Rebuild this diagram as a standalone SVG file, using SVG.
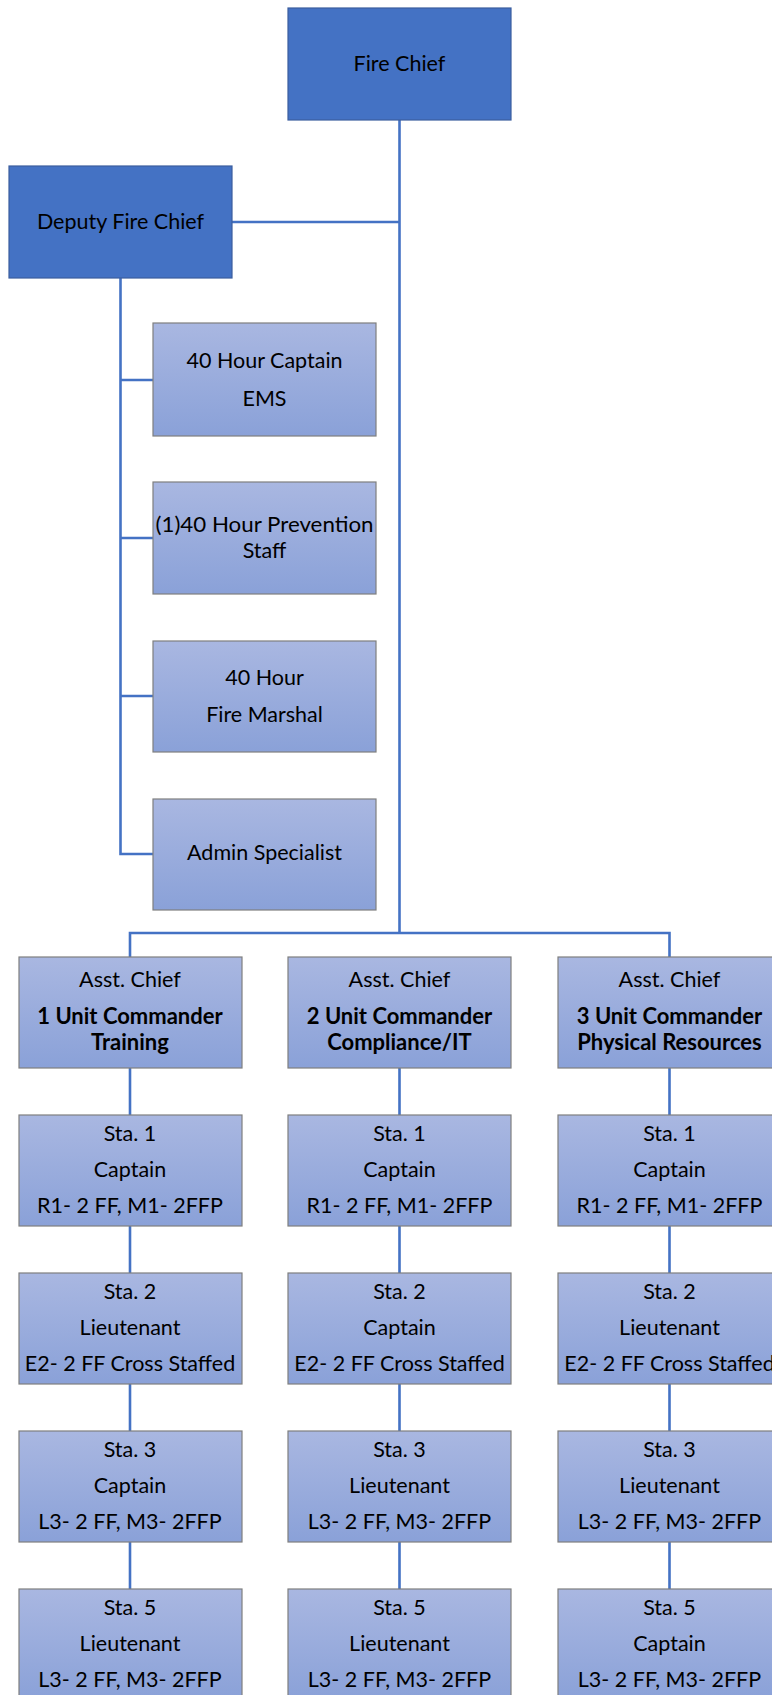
<svg xmlns="http://www.w3.org/2000/svg" width="772" height="1695" viewBox="0 0 772 1695">
<defs>
<linearGradient id="g" x1="0" y1="0" x2="0" y2="1">
<stop offset="0" stop-color="#A9B7E1"/>
<stop offset="1" stop-color="#8AA1D8"/>
</linearGradient>
<style>
.dark{fill:#4472C4;stroke:#3B5E9E;stroke-width:1.2}
.lite{fill:url(#g);stroke:#7F7F7F;stroke-width:1.2}
text{font-family:Lato,"Open Sans","Liberation Sans",sans-serif;font-size:21.5px;fill:#000;text-anchor:middle}
.b{font-weight:bold;font-size:22px}
.con{fill:none;stroke:#4472C4;stroke-width:2.6}
</style>
</defs>
<rect width="772" height="1695" fill="#fff"/>
<g id="connectors">
<path class="con" d="M399.5 120 V933"/>
<path class="con" d="M232 222 H399.5"/>
<path class="con" d="M120.5 278 V854 H153"/>
<path class="con" d="M120.5 380 H153 M120.5 538 H153 M120.5 696 H153"/>
<path class="con" d="M130 957 V933 H669.5 V957"/>
<path class="con" d="M130 1068 V1115 M130 1226 V1273 M130 1384 V1431 M130 1542 V1589"/>
<path class="con" d="M399.5 1068 V1115 M399.5 1226 V1273 M399.5 1384 V1431 M399.5 1542 V1589"/>
<path class="con" d="M669.5 1068 V1115 M669.5 1226 V1273 M669.5 1384 V1431 M669.5 1542 V1589"/>
</g>
<g id="fire-chief"><rect class="dark" x="288" y="8" width="223" height="112"/><text x="399.5" y="71">Fire Chief</text></g>
<g id="deputy"><rect class="dark" x="9" y="166" width="223" height="112"/><text x="120.5" y="229">Deputy Fire Chief</text></g>
<g id="ems"><rect class="lite" x="153" y="323" width="223" height="113"/><text x="264.5" y="368">40 Hour Captain</text><text x="264.5" y="406">EMS</text></g>
<g id="prevention"><rect class="lite" x="153" y="482" width="223" height="112"/><text x="264.5" y="532" textLength="218" lengthAdjust="spacingAndGlyphs">(1)40 Hour Prevention</text><text x="264.5" y="558">Staff</text></g>
<g id="marshal"><rect class="lite" x="153" y="641" width="223" height="111"/><text x="264.5" y="685">40 Hour</text><text x="264.5" y="722">Fire Marshal</text></g>
<g id="admin"><rect class="lite" x="153" y="799" width="223" height="111"/><text x="264.5" y="860">Admin Specialist</text></g>

<g id="ac1"><rect class="lite" x="19" y="957" width="223" height="111"/><text x="130" y="987">Asst. Chief</text><text class="b" x="130" y="1024">1 Unit Commander</text><text class="b" x="130" y="1050">Training</text></g>
<g id="ac2"><rect class="lite" x="288" y="957" width="223" height="111"/><text x="399.5" y="987">Asst. Chief</text><text class="b" x="399.5" y="1024">2 Unit Commander</text><text class="b" x="399.5" y="1050">Compliance/IT</text></g>
<g id="ac3"><rect class="lite" x="558" y="957" width="223" height="111"/><text x="669.5" y="987">Asst. Chief</text><text class="b" x="669.5" y="1024">3 Unit Commander</text><text class="b" x="669.5" y="1050">Physical Resources</text></g>

<g id="c1s1"><rect class="lite" x="19" y="1115" width="223" height="111"/><text x="130" y="1141">Sta. 1</text><text x="130" y="1177">Captain</text><text x="130" y="1213">R1- 2 FF, M1- 2FFP</text></g>
<g id="c2s1"><rect class="lite" x="288" y="1115" width="223" height="111"/><text x="399.5" y="1141">Sta. 1</text><text x="399.5" y="1177">Captain</text><text x="399.5" y="1213">R1- 2 FF, M1- 2FFP</text></g>
<g id="c3s1"><rect class="lite" x="558" y="1115" width="223" height="111"/><text x="669.5" y="1141">Sta. 1</text><text x="669.5" y="1177">Captain</text><text x="669.5" y="1213">R1- 2 FF, M1- 2FFP</text></g>

<g id="c1s2"><rect class="lite" x="19" y="1273" width="223" height="111"/><text x="130" y="1299">Sta. 2</text><text x="130" y="1335">Lieutenant</text><text x="130" y="1371">E2- 2 FF Cross Staffed</text></g>
<g id="c2s2"><rect class="lite" x="288" y="1273" width="223" height="111"/><text x="399.5" y="1299">Sta. 2</text><text x="399.5" y="1335">Captain</text><text x="399.5" y="1371">E2- 2 FF Cross Staffed</text></g>
<g id="c3s2"><rect class="lite" x="558" y="1273" width="223" height="111"/><text x="669.5" y="1299">Sta. 2</text><text x="669.5" y="1335">Lieutenant</text><text x="669.5" y="1371">E2- 2 FF Cross Staffed</text></g>

<g id="c1s3"><rect class="lite" x="19" y="1431" width="223" height="111"/><text x="130" y="1457">Sta. 3</text><text x="130" y="1493">Captain</text><text x="130" y="1529">L3- 2 FF, M3- 2FFP</text></g>
<g id="c2s3"><rect class="lite" x="288" y="1431" width="223" height="111"/><text x="399.5" y="1457">Sta. 3</text><text x="399.5" y="1493">Lieutenant</text><text x="399.5" y="1529">L3- 2 FF, M3- 2FFP</text></g>
<g id="c3s3"><rect class="lite" x="558" y="1431" width="223" height="111"/><text x="669.5" y="1457">Sta. 3</text><text x="669.5" y="1493">Lieutenant</text><text x="669.5" y="1529">L3- 2 FF, M3- 2FFP</text></g>

<g id="c1s5"><rect class="lite" x="19" y="1589" width="223" height="111"/><text x="130" y="1615">Sta. 5</text><text x="130" y="1651">Lieutenant</text><text x="130" y="1687">L3- 2 FF, M3- 2FFP</text></g>
<g id="c2s5"><rect class="lite" x="288" y="1589" width="223" height="111"/><text x="399.5" y="1615">Sta. 5</text><text x="399.5" y="1651">Lieutenant</text><text x="399.5" y="1687">L3- 2 FF, M3- 2FFP</text></g>
<g id="c3s5"><rect class="lite" x="558" y="1589" width="223" height="111"/><text x="669.5" y="1615">Sta. 5</text><text x="669.5" y="1651">Captain</text><text x="669.5" y="1687">L3- 2 FF, M3- 2FFP</text></g>
</svg>
